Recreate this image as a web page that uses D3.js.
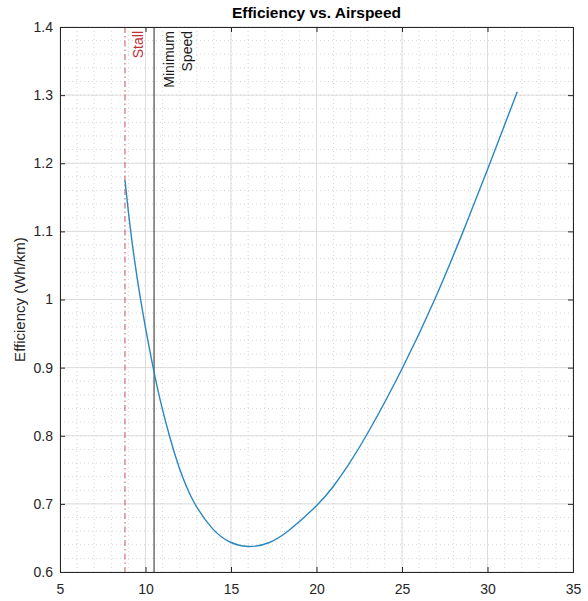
<!DOCTYPE html>
<html>
<head>
<meta charset="utf-8">
<script src="https://cdn.jsdelivr.net/npm/d3@7"></script>
<style>
  body { margin: 0; background: #fff; }
  text { font-family: "Liberation Sans", Arial, sans-serif; }
</style>
</head>
<body>
<svg width="588" height="601"></svg>
<script>
// airspeed (m/s) and efficiency (Wh/km)
const speed = [8.8, 9.13, 9.68, 10.46, 10.85, 11.43, 11.92, 12.7, 13.97, 14.94, 16.1,
  17.28, 18.26, 20.17, 20.95, 21.77, 22.97, 25.08, 26.95, 28.59, 30.15, 31.74];
const efficiency = [1.175, 1.097, 1.0, 0.897, 0.852, 0.796, 0.755, 0.704, 0.659, 0.642, 0.635,
  0.642, 0.657, 0.7, 0.724, 0.753, 0.801, 0.9, 1.0, 1.1, 1.2, 1.305];

const xTicks = [5, 10, 15, 20, 25, 30, 35];
const yTicks = [0.6, 0.7, 0.8, 0.9, 1, 1.1, 1.2, 1.3, 1.4];
const xMinor = d3.range(5, 35.01, 1);
const yMinor = d3.range(0.6, 1.401, 0.02);

const stallSpeed = 8.8;
const minSpeed = 10.5;

const svg = d3.select("svg");
const width = +svg.attr("width");
const height = +svg.attr("height");
const margin = { top: 27, right: 15, bottom: 29, left: 60 };
const w = width - margin.left - margin.right;
const h = height - margin.top - margin.bottom;

const x = d3.scaleLinear().domain([5, 35]).range([0, w]);
const y = d3.scaleLinear().domain([0.6, 1.4]).range([h, 0]);

const g = svg.append("g").attr("transform", "translate(" + margin.left + "," + margin.top + ")");

// minor grid (dotted)
g.append("g")
  .selectAll("line")
  .data(xMinor)
  .enter()
  .append("line")
  .attr("x1", d => x(d)).attr("x2", d => x(d))
  .attr("y1", 0).attr("y2", h)
  .attr("stroke", "#d6d6d6")
  .attr("stroke-dasharray", "1,3");
g.append("g")
  .selectAll("line")
  .data(yMinor)
  .enter()
  .append("line")
  .attr("y1", d => y(d)).attr("y2", d => y(d))
  .attr("x1", 0).attr("x2", w)
  .attr("stroke", "#d6d6d6")
  .attr("stroke-dasharray", "1,3");

// major grid
g.append("g")
  .selectAll("line")
  .data(xTicks)
  .enter()
  .append("line")
  .attr("x1", d => x(d)).attr("x2", d => x(d))
  .attr("y1", 0).attr("y2", h)
  .attr("stroke", "#dcdcdc");
g.append("g")
  .selectAll("line")
  .data(yTicks)
  .enter()
  .append("line")
  .attr("y1", d => y(d)).attr("y2", d => y(d))
  .attr("x1", 0).attr("x2", w)
  .attr("stroke", "#dcdcdc");

// reference lines
g.append("line")
  .attr("x1", x(stallSpeed)).attr("x2", x(stallSpeed))
  .attr("y1", 0).attr("y2", h)
  .attr("stroke", "#c8505a")
  .attr("stroke-width", 1)
  .attr("stroke-dasharray", "6,3,1.5,3");
g.append("line")
  .attr("x1", x(minSpeed)).attr("x2", x(minSpeed))
  .attr("y1", 0).attr("y2", h)
  .attr("stroke", "#262626")
  .attr("stroke-width", 1);

g.append("text")
  .attr("transform", "translate(" + (x(stallSpeed) + 18) + ",4) rotate(-90)")
  .attr("text-anchor", "end")
  .attr("font-size", 14)
  .attr("fill", "#c0303a")
  .text("Stall");
const minLabel = g.append("text")
  .attr("transform", "translate(" + (x(minSpeed) + 20) + ",4) rotate(-90)")
  .attr("text-anchor", "end")
  .attr("font-size", 14)
  .attr("fill", "#1a1a1a");
minLabel.append("tspan").attr("x", 0).attr("y", 0).text("Minimum");
minLabel.append("tspan").attr("x", 0).attr("y", 18).text("Speed");

// curve
const line = d3.line()
  .x((d, i) => x(speed[i]))
  .y(d => y(d))
  .curve(d3.curveBasis);

g.append("path")
  .datum(efficiency)
  .attr("fill", "none")
  .attr("stroke", "#2a87c0")
  .attr("stroke-width", 1.4)
  .attr("d", line);

// axes
const fmt = d => String(+d.toFixed(2));
const xAxis = g.append("g")
  .attr("transform", "translate(0," + h + ")")
  .call(d3.axisBottom(x).tickValues(xTicks).tickSize(-5).tickPadding(12).tickFormat(fmt));
const yAxis = g.append("g")
  .call(d3.axisLeft(y).tickValues(yTicks).tickSize(-5).tickPadding(7).tickFormat(fmt));
const topAxis = g.append("g")
  .call(d3.axisTop(x).tickValues(xTicks).tickSize(-5).tickFormat(""));
const rightAxis = g.append("g")
  .attr("transform", "translate(" + w + ",0)")
  .call(d3.axisRight(y).tickValues(yTicks).tickSize(-5).tickFormat(""));

[xAxis, yAxis, topAxis, rightAxis].forEach(a => {
  a.selectAll("path").attr("stroke", "#262626");
  a.selectAll("line").attr("stroke", "#262626");
  a.selectAll("text")
    .attr("font-family", "'Liberation Sans', Arial, sans-serif")
    .attr("font-size", 14)
    .attr("fill", "#262626");
});

// title and label
svg.append("text")
  .attr("x", margin.left + w / 2)
  .attr("y", 18)
  .attr("text-anchor", "middle")
  .attr("font-size", 15.5)
  .attr("font-weight", "bold")
  .attr("fill", "#000")
  .text("Efficiency vs. Airspeed");

svg.append("text")
  .attr("transform", "translate(25," + (margin.top + h / 2) + ") rotate(-90)")
  .attr("text-anchor", "middle")
  .attr("font-size", 15)
  .attr("fill", "#262626")
  .text("Efficiency (Wh/km)");
</script>
</body>
</html>
